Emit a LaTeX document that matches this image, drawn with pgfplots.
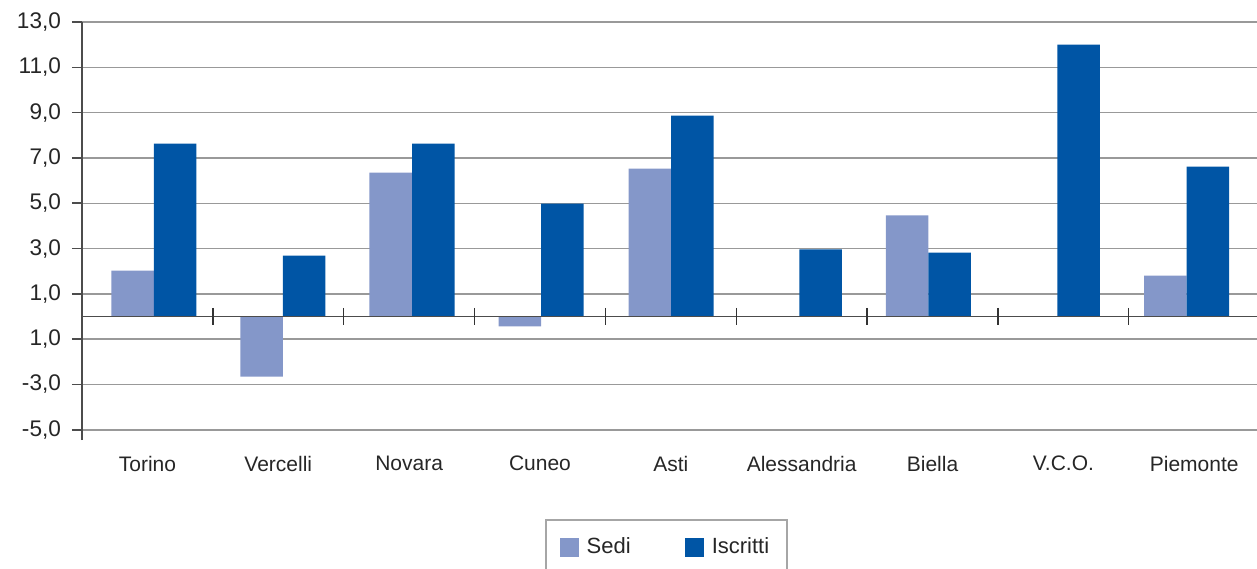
\documentclass[border=0pt]{standalone}
\usepackage{pgfplots}
\pgfplotsset{compat=1.18}
\usepackage{fontspec}
\setmainfont{Liberation Sans}
\definecolor{sedi}{HTML}{8497C9}
\definecolor{iscr}{HTML}{0055A5}
\begin{document}
\begin{tikzpicture}
\begin{axis}[
 scale only axis, width=587.5pt, height=209pt,
 xmin=-0.5, xmax=8.48, ymin=-5.45, ymax=13,
 axis x line*=bottom, axis y line*=left,
 x axis line style={draw=none},
 y axis line style={draw=black!70, line width=0.8pt, -},
 xtick={0,...,8},
 xticklabels={Torino,Vercelli,Novara,Cuneo,Asti,Alessandria,Biella,V.C.O.,Piemonte},
 x tick style={draw=none},
 ytick={-5,-3,...,13},
 yticklabels={{-5,0},{-3,0},{1,0},{1,0},{3,0},{5,0},{7,0},{9,0},{11,0},{13,0}},
 y tick style={draw=black!70, line width=0.8pt},
 tick align=outside, major tick length=5pt,
 ymajorgrids, grid style={draw=black!40, line width=0.7pt},
 ybar=0pt, bar width=21.25pt,
 ticklabel style={font=\fontsize{11.3}{13}\selectfont, text=black!85},
 yticklabel style={xshift=-2pt},
 xticklabel style={font=\fontsize{10.5}{13}\selectfont, yshift=0.5pt},
 legend style={at={(0.4974,-0.189)}, anchor=north, legend columns=2,
   draw=black!35, line width=0.8pt, font=\fontsize{11}{13}\selectfont,
   inner xsep=7pt, inner ysep=7pt, text=black!85,
   /tikz/every odd column/.append style={column sep=2pt},
   /tikz/every even column/.append style={column sep=25pt}},
 legend image code/.code={\path[#1] (0pt,-4.75pt) rectangle (9.5pt,4.75pt);},
]
\addplot[fill=sedi, draw=none] coordinates {(0.049,2.03) (1.036,-2.65) (2.022,6.35) (3.009,-0.44) (4.003,6.53) (4.982,0) (5.969,4.46) (6.955,0) (7.942,1.81)};
\addplot[fill=iscr, draw=none] coordinates {(0.049,7.63) (1.036,2.69) (2.022,7.63) (3.009,4.98) (4.003,8.87) (4.982,2.96) (5.969,2.82) (6.955,12.0) (7.942,6.62)};
\legend{Sedi,Iscritti}
\draw[black!70, line width=0.8pt] (axis cs:-0.5,0) -- (axis cs:8.48,0);
\pgfplotsinvokeforeach{0.5,1.5,2.5,3.5,4.5,5.5,6.5,7.5}{
  \draw[black!80, line width=0.7pt] (axis cs:#1,0.38) -- (axis cs:#1,-0.38);
}
\end{axis}
\pgfresetboundingbox
\path (-41pt,-64pt) rectangle (587.5pt,220pt);
\end{tikzpicture}
\end{document}
